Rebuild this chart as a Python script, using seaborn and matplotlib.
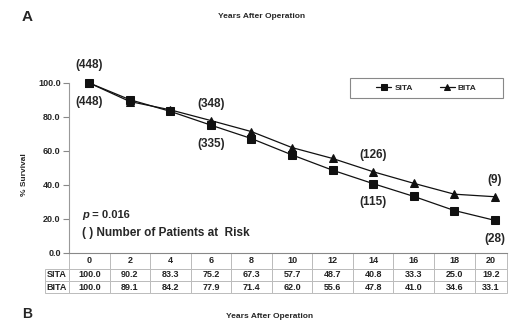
import pandas as pd
import matplotlib
matplotlib.use("Agg")
import matplotlib.pyplot as plt
from matplotlib.patches import Rectangle
import seaborn as sns

years = [0, 2, 4, 6, 8, 10, 12, 14, 16, 18, 20]
sita = [100.0, 90.2, 83.3, 75.2, 67.3, 57.7, 48.7, 40.8, 33.3, 25.0, 19.2]
bita = [100.0, 89.1, 84.2, 77.9, 71.4, 62.0, 55.6, 47.8, 41.0, 34.6, 33.1]
risk_years = [0, 6, 14, 20]
sita_risk = [448, 335, 115, 28]
bita_risk = [448, 348, 126, 9]
yticks = [0, 20, 40, 60, 80, 100]

df = pd.DataFrame({
    "year": years + years,
    "survival": sita + bita,
    "group": ["SITA"] * len(years) + ["BITA"] * len(years),
})

sns.set_style("white")
plt.rcParams["font.family"] = ["Liberation Sans", "DejaVu Sans"]
plt.rcParams["font.weight"] = "bold"

W, H = 510, 321
fig = plt.figure(figsize=(5.1, 3.21), dpi=100)
left, right, top, bottom = 69, 507, 83, 253
ax = fig.add_axes([left / W, 1 - bottom / H, (right - left) / W, (bottom - top) / H])

sns.lineplot(data=df, x="year", y="survival", hue="group", style="group",
             markers={"SITA": "s", "BITA": "^"}, dashes=False,
             palette={"SITA": "#111111", "BITA": "#111111"},
             markersize=6, linewidth=0.9, markeredgecolor="#111111",
             ax=ax, clip_on=False, legend=True)

xmin, xmax = -1, 20.6
ax.set_xlim(xmin, xmax)
ax.set_ylim(0, 100)
ax.set_xticks([])
ax.set_yticks(yticks)
ax.set_yticklabels([f"{v:.1f}" for v in yticks], fontsize=6.5)
ax.tick_params(axis="y", direction="out", length=4, width=0.8, color="#888888", pad=2, left=True)
ax.set_xlabel("")
ax.set_ylabel("")
for s in ["top", "right"]:
    ax.spines[s].set_visible(False)
ax.spines["left"].set_color("#999999")
ax.spines["bottom"].set_color("#888888")
ax.spines["left"].set_linewidth(0.8)

# legend in a plain box
handles, labels = ax.get_legend_handles_labels()
bx0 = (350 - left) / (right - left)
bx1 = (503 - left) / (right - left)
by0 = (bottom - 98) / (bottom - top)
by1 = (bottom - 78) / (bottom - top)
ax.add_patch(Rectangle((bx0, by0), bx1 - bx0, by1 - by0, transform=ax.transAxes,
                       facecolor="white", edgecolor="#888888", linewidth=0.8, clip_on=False, zorder=4))
ax.legend(handles, labels, ncol=2, loc="center", bbox_to_anchor=((bx0 + bx1) / 2, (by0 + by1) / 2),
          frameon=False, fontsize=6, handlelength=1.8, handletextpad=0.4,
          columnspacing=3.2, markerscale=0.8)

# patients at risk
for yr, n in zip(risk_years, bita_risk):
    off = 13 if yr == 0 else 12
    ax.annotate(f"({n})", (yr, bita[years.index(yr)]), xytext=(0, off), textcoords="offset points",
                ha="center", va="center", fontsize=8.5, fontweight="bold")
for yr, n in zip(risk_years, sita_risk):
    ax.annotate(f"({n})", (yr, sita[years.index(yr)]), xytext=(0, -13.5), textcoords="offset points",
                ha="center", va="center", fontsize=8.5, fontweight="bold")

pt = ax.text(0.03, 0.224, "p", transform=ax.transAxes, fontsize=8, fontweight="bold",
             style="italic", va="center", ha="left")
ax.annotate(" = 0.016", xy=(1, 0.5), xycoords=pt, va="center", ha="left", fontsize=8, fontweight="bold")
ax.text(0.03, 0.118, "( ) Number of Patients at  Risk", transform=ax.transAxes, fontsize=8.5,
        fontweight="bold", va="center", ha="left")

# table under the axis
cells = [[""] + [str(y) for y in years],
         ["SITA"] + [f"{v:.1f}" for v in sita],
         ["BITA"] + [f"{v:.1f}" for v in bita]]
span = xmax - xmin
lab_w = (left - 45) / (right - left) * span
widths = [lab_w] + [2] * (len(years) - 1) + [xmax - (years[-1] - 1)]
tab_h = (293 - bottom) / (bottom - top)
x0 = -(left - 45) / (right - left)
tab = ax.table(cellText=cells, colWidths=widths, cellLoc="center",
               bbox=[x0, -tab_h, 1 - x0, tab_h])
tab.auto_set_font_size(False)
tab.set_fontsize(6.5)
row_h = [16, 13, 12]
for (r, c), cell in tab.get_celld().items():
    cell.set_edgecolor("#bbbbbb")
    cell.set_linewidth(0.7)
    cell.set_height(row_h[r])
    cell.get_text().set_fontweight("bold")
    cell.get_text().set_color("#222222")
tab[0, 0].visible_edges = ""

fig.text(262 / W, 1 - 16 / H, "Years After Operation", ha="center", va="center", fontsize=6, fontweight="bold")
fig.text(270 / W, 1 - 316 / H, "Years After Operation", ha="center", va="center", fontsize=6, fontweight="bold")
fig.text(27 / W, 1 - 17 / H, "A", ha="center", va="center", fontsize=11, fontweight="bold")
fig.text(27 / W, 0.0, "B", ha="center", va="bottom", fontsize=10, fontweight="bold")
fig.text(25 / W, 1 - 175 / H, "% Survival", ha="center", va="center", rotation=90, fontsize=6, fontweight="bold")

fig.savefig("out.png", dpi=100)
